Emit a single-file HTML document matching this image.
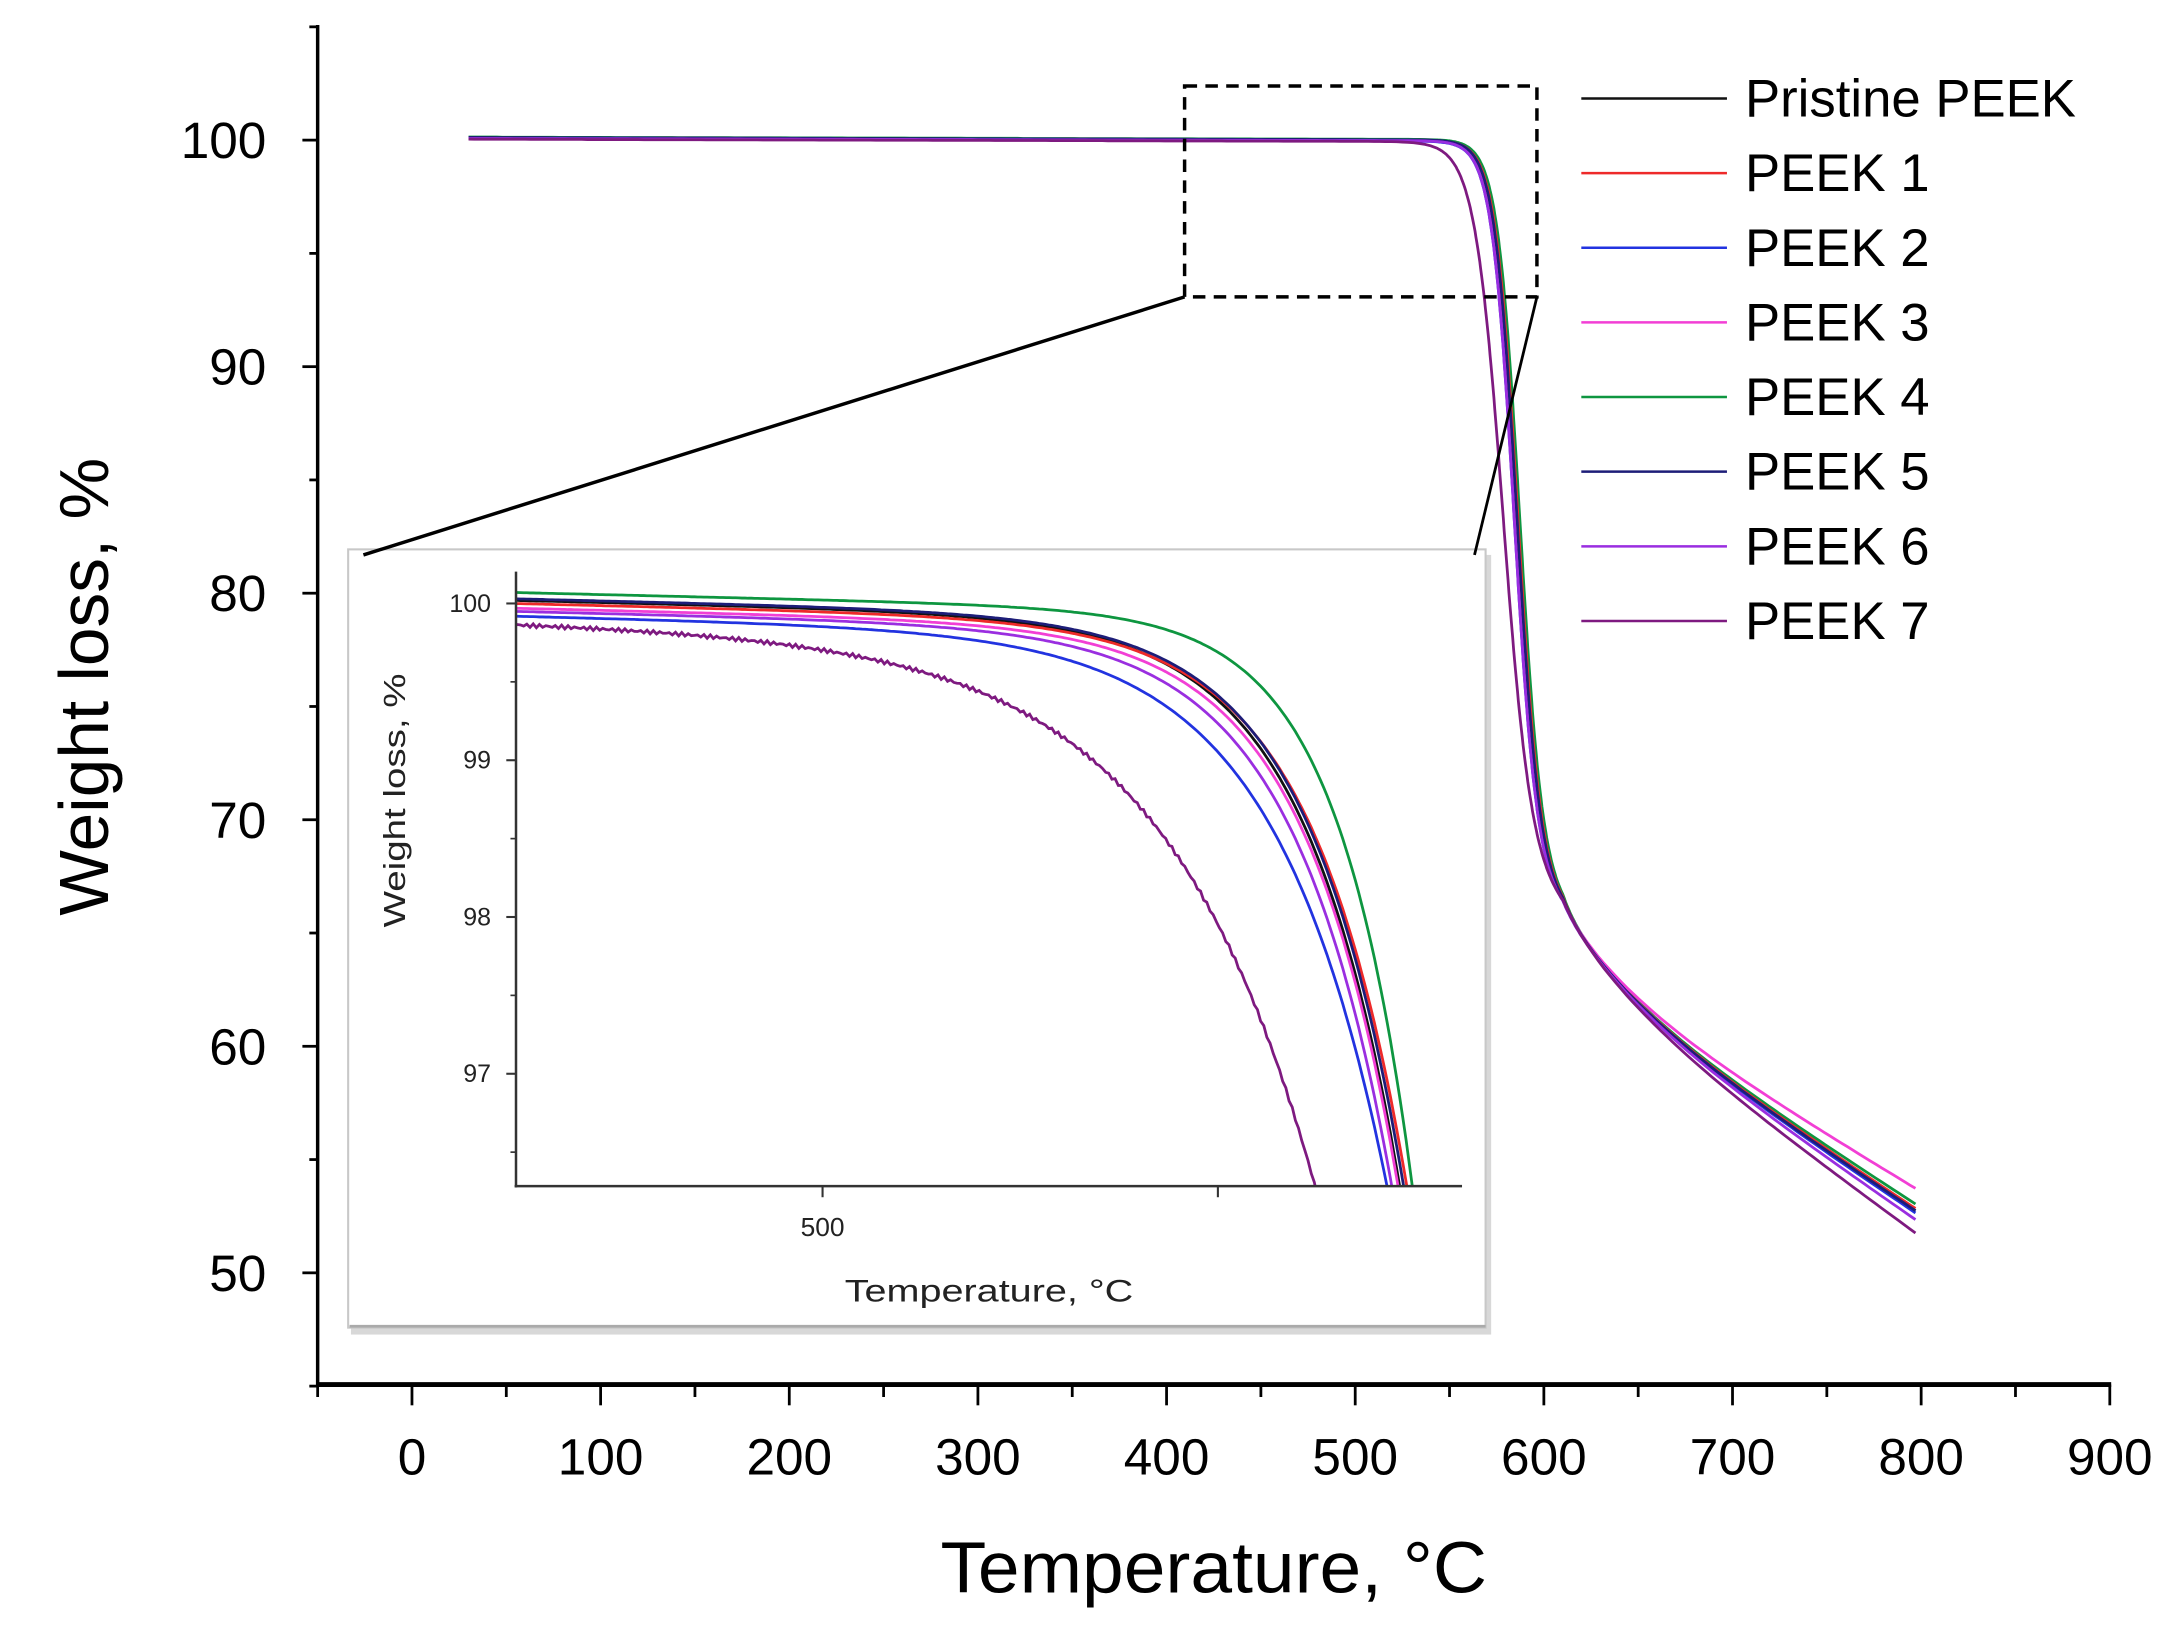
<!DOCTYPE html>
<html><head><meta charset="utf-8"><style>
html,body{margin:0;padding:0;background:#fff;overflow:hidden;width:2175px;height:1637px;}
svg{display:block;font-family:"Liberation Sans",Arial,sans-serif;}
</style></head><body>
<svg id="s" width="2175" height="1637" viewBox="0 0 1568 1180" preserveAspectRatio="none" xmlns="http://www.w3.org/2000/svg">
<rect x="0" y="0" width="1568" height="1180" fill="#fff"/>
<rect x="253" y="400" width="822" height="562" fill="#d8d8d8"/>
<rect x="251" y="396" width="820" height="561" fill="#fff" stroke="#c8c8c8" stroke-width="1.5"/>
<line x1="252" y1="956" x2="1071" y2="956" stroke="#aaa" stroke-width="2"/>
<g id="curves"></g>
<g id="inset"></g>
<rect x="854" y="62" width="254" height="152" fill="none" stroke="#000" stroke-width="2.5" stroke-dasharray="9,6"/>
<line x1="854" y1="214" x2="262" y2="400" stroke="#000" stroke-width="2.5"/>
<line x1="1108" y1="214" x2="1063" y2="400" stroke="#000" stroke-width="2"/>
<line x1="229" y1="18" x2="229" y2="999" stroke="#000" stroke-width="2.5"/>
<line x1="228" y1="998" x2="1522" y2="998" stroke="#000" stroke-width="3.5"/>
<g id="ticks" stroke="#000" stroke-width="2"></g>
<g font-size="37" fill="#000" text-anchor="middle" id="xl"></g>
<g font-size="37" fill="#000" text-anchor="end" id="yl"></g>
<text x="875" y="1148" font-size="52" text-anchor="middle" textLength="394" lengthAdjust="spacingAndGlyphs">Temperature, °C</text>
<text transform="translate(78,495) rotate(-90)" font-size="50" text-anchor="middle" textLength="330" lengthAdjust="spacingAndGlyphs">Weight loss, %</text>
<g id="leg" font-size="38"></g>
</svg>
<script>
var NS="http://www.w3.org/2000/svg";
function el(p,t,a,txt){var e=document.createElementNS(NS,t);for(var k in a)e.setAttribute(k,a[k]);if(txt!==undefined)e.textContent=txt;p.appendChild(e);return e;}
var X=function(T){return 297+1.36*T;}, Y=function(W){return 101+(100-W)*16.33;};
var tk=document.getElementById('ticks'), xl=document.getElementById('xl'), yl=document.getElementById('yl');
for(var T=-50;T<=900;T+=50){var maj=(T%100===0);el(tk,'line',{x1:X(T),y1:998,x2:X(T),y2:maj?1013:1007});if(maj)el(xl,'text',{x:X(T),y:1063},String(T));}
for(var W=45;W<=105;W+=5){var maj=(W%10===0);el(tk,'line',{x1:229,y1:Y(W),x2:maj?218:223,y2:Y(W)});if(maj&&W>=50&&W<=100)el(yl,'text',{x:192,y:Y(W)+13},String(W));}
var S=[
 {n:"Pristine PEEK",c:"#111111",Tm:585,w:6,end:0,w0:100.02,bot:573,k:12},
 {n:"PEEK 1",c:"#ee2a2a",Tm:586,w:6,end:0.1,w0:100.0,bot:573.9,k:12},
 {n:"PEEK 2",c:"#2233e0",Tm:584,w:6,end:-0.1,w0:99.92,bot:571.4,k:14},
 {n:"PEEK 3",c:"#f23fd5",Tm:585,w:6,end:1.0,w0:99.97,bot:572.8,k:12},
 {n:"PEEK 4",c:"#0e9640",Tm:587,w:6,end:0.3,w0:100.07,bot:574.6,k:9.5},
 {n:"PEEK 5",c:"#1d1d78",Tm:585.5,w:6,end:0,w0:100.03,bot:573.5,k:12},
 {n:"PEEK 6",c:"#9a2ee0",Tm:584,w:6,end:-0.4,w0:99.95,bot:572,k:12.5},
 {n:"PEEK 7",c:"#7e1a80",Tm:578,w:7.5,end:-1.0,w0:99.88,bot:562.3,k:19}
];
S.forEach(function(s){var need=s.w0-0.0012*(s.bot-461)-96.28;s.tb=s.bot-s.k*Math.log(need/3.75);});
var cg=document.getElementById('curves'), ig=document.getElementById('inset'), lg=document.getElementById('leg');
function resid(T,s){var r;if(T<610)r=66-0.055*(T-610);else r=66-0.055*(T-610)-3*(1-Math.exp(-(T-610)/40));return r+s.end*Math.min(1,Math.max(0,(T-610)/190));}
var order=[4,0,1,2,3,5,6,7];
order.forEach(function(i){var s=S[i];var d="";
 for(var T=30;T<=798;T+=(T>540&&T<620)?0.5:3){var P=100.1+(s.w0-100)*0.5-0.0002*(T-30);var z=1/(1+Math.exp(-(T-s.Tm)/s.w));var W=P*(1-z)+resid(T,s)*z;d+=(d?"L":"M")+X(T).toFixed(1)+","+Y(W).toFixed(1);}
 el(cg,'path',{d:d,fill:"none",stroke:s.c,"stroke-width":2});
});
var XI=function(T){return 593+(T-500)*5.7;}, YI=function(W){return 435+(100-W)*113;};
el(ig,'clipPath',{id:"ic"});el(ig.lastChild,'rect',{x:372,y:405,width:681,height:450});
var ic=el(ig,'g',{"clip-path":"url(#ic)"});
order.forEach(function(i){var s=S[i];var d="";
 for(var T=461;T<=580;T+=0.4){var W=s.w0-0.0012*(T-461)-3.75*Math.exp((T-s.tb)/s.k)+(i==7?0.012*Math.sin(T*7):0);d+=(d?"L":"M")+XI(T).toFixed(1)+","+YI(W).toFixed(1);}
 el(ic,'path',{d:d,fill:"none",stroke:s.c,"stroke-width":2});
});
el(ig,'line',{x1:372,y1:412,x2:372,y2:856,stroke:"#333","stroke-width":1.8});
el(ig,'line',{x1:371,y1:855,x2:1054,y2:855,stroke:"#333","stroke-width":1.8});
[100,99,98,97].forEach(function(W){el(ig,'line',{x1:372,y1:YI(W),x2:365,y2:YI(W),stroke:"#333","stroke-width":1.5});el(ig,'text',{x:354,y:YI(W)+6,"font-size":18,"text-anchor":"end",fill:"#222"},String(W));});
[99.5,98.5,97.5,96.5].forEach(function(W){el(ig,'line',{x1:372,y1:YI(W),x2:368,y2:YI(W),stroke:"#333","stroke-width":1.2});});
el(ig,'line',{x1:593,y1:855,x2:593,y2:863,stroke:"#333","stroke-width":1.5});
el(ig,'line',{x1:878,y1:855,x2:878,y2:863,stroke:"#333","stroke-width":1.5});
el(ig,'text',{x:593,y:891,"font-size":19,"text-anchor":"middle",fill:"#222"},"500");
el(ig,'text',{x:713,y:938,"font-size":23,"text-anchor":"middle",fill:"#222",textLength:208,lengthAdjust:"spacingAndGlyphs"},"Temperature, °C");
el(ig,'text',{transform:"translate(292,577) rotate(-90)","font-size":22,"text-anchor":"middle",fill:"#222",textLength:183,lengthAdjust:"spacingAndGlyphs"},"Weight loss, %");
S.forEach(function(s,i){var y=71+i*53.8;el(lg,'line',{x1:1140,y1:y,x2:1245,y2:y,stroke:s.c,"stroke-width":1.8});el(lg,'text',{x:1258,y:y+13,fill:"#000"},s.n);});
</script>
</body></html>
